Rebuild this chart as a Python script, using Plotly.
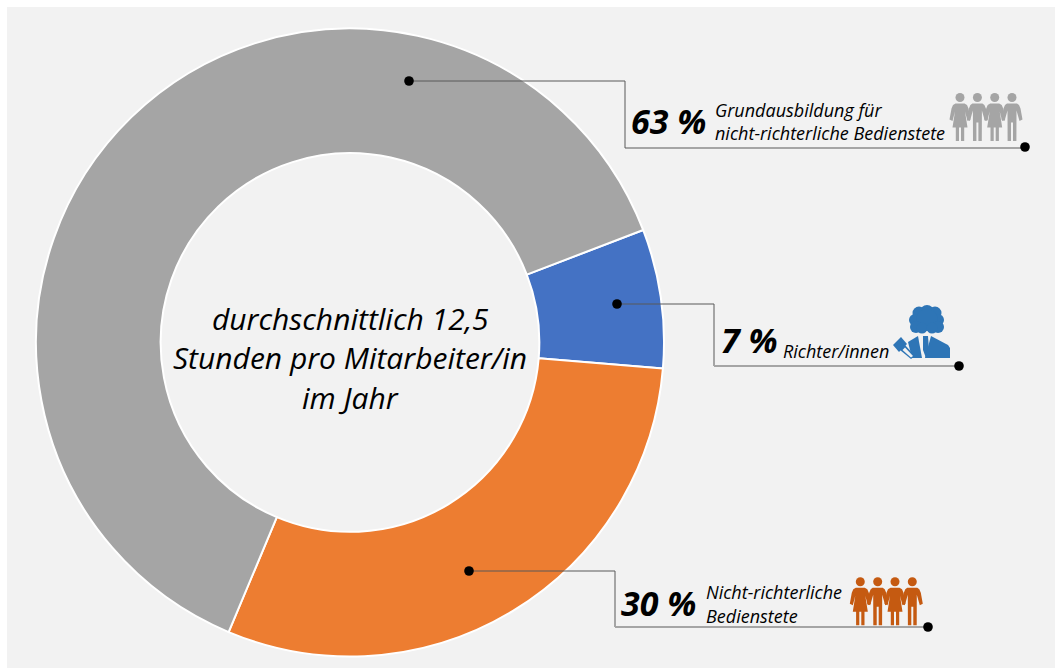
import plotly.graph_objects as go

categories = ["Richter/innen", "Nicht-richterliche Bedienstete", "Grundausbildung für nicht-richterliche Bedienstete"]
values = [7.15, 30.0, 62.85]
colors = ["#4472C4", "#ED7D31", "#A5A5A5"]
center_lines = ["durchschnittlich 12,5", "Stunden pro Mitarbeiter/in", "im Jahr"]

W, H = 1055, 668
FONT = "Open Sans"
BG = "#F2F2F2"
def X(p): return p / W
def Y(p): return 1 - p / H

fig = go.Figure(go.Pie(
    labels=categories, values=values, hole=0.603, sort=False, direction="clockwise",
    rotation=69, textinfo="none", hoverinfo="label+percent", showlegend=False,
    marker=dict(colors=colors, line=dict(color="#FFFFFF", width=2)),
    domain=dict(x=[X(36), X(664)], y=[Y(657), Y(28)]),
))

shapes = [dict(type="rect", xref="paper", yref="paper", x0=X(7), x1=X(1055), y0=Y(668), y1=Y(7),
               fillcolor=BG, line_width=0, layer="below")]

def poly(points):
    return "M" + " L".join(f"{X(a):.5f},{Y(b):.5f}" for a, b in points) + " Z"

def circle(cx, cy, r, color):
    shapes.append(dict(type="circle", xref="paper", yref="paper", x0=X(cx - r), x1=X(cx + r),
                       y0=Y(cy + r), y1=Y(cy - r), fillcolor=color, line_width=0))

def polygon(points, color):
    shapes.append(dict(type="path", xref="paper", yref="paper", path=poly(points),
                       fillcolor=color, line_width=0))

def seg(a, b, c, d, color, width):
    shapes.append(dict(type="line", xref="paper", yref="paper", x0=X(a), x1=X(c), y0=Y(b), y1=Y(d),
                       line=dict(color=color, width=width)))

def leader(x0, y0, xm, ym, xe, ye, base_color, base_width):
    seg(x0, y0, xm, y0, "#595959", 1)
    seg(xm, y0, xm, ym, "#595959", 1)
    seg(xm, ym, xe, ym, base_color, base_width)
    circle(x0, y0, 4.8, "#000000")
    circle(xe, ye, 4.8, "#000000")

def man(cx, top, color):
    circle(cx, top + 4, 4.5, color)
    polygon([(cx - 5, top + 10), (cx + 5, top + 10), (cx + 7, top + 11.5), (cx + 8.5, top + 15), (cx + 10.5, top + 26),
             (cx + 7.5, top + 27.5), (cx + 4.5, top + 17), (cx + 4.4, top + 47.5), (cx + 1, top + 47.5),
             (cx + 1, top + 29), (cx - 1, top + 29), (cx - 1, top + 47.5), (cx - 4.4, top + 47.5),
             (cx - 4.5, top + 17), (cx - 7.5, top + 27.5), (cx - 10.5, top + 26), (cx - 8.5, top + 15), (cx - 7, top + 11.5)], color)

def woman(cx, top, color):
    circle(cx, top + 4, 4.5, color)
    polygon([(cx - 4.5, top + 10), (cx + 4.5, top + 10), (cx + 7, top + 11.5), (cx + 8.5, top + 15), (cx + 10.5, top + 26),
             (cx + 7.5, top + 27.5), (cx + 5, top + 18), (cx + 7.5, top + 34), (cx + 4.2, top + 34),
             (cx + 4.2, top + 47.5), (cx + 1, top + 47.5), (cx + 1, top + 34), (cx - 1, top + 34),
             (cx - 1, top + 47.5), (cx - 4.2, top + 47.5), (cx - 4.2, top + 34), (cx - 7.5, top + 34),
             (cx - 5, top + 18), (cx - 7.5, top + 27.5), (cx - 10.5, top + 26), (cx - 8.5, top + 15), (cx - 7, top + 11.5)], color)

def people(x0, top, color):
    woman(x0, top, color); man(x0 + 17.4, top, color)
    woman(x0 + 34.7, top, color); man(x0 + 52, top, color)

def judge(color):
    for cx, cy, r in [(927, 312, 7), (919, 313, 6.5), (935, 313, 6.5), (915, 320, 6), (938, 320, 6),
                      (927, 320, 11), (916, 327, 6), (938, 327, 6), (922, 328, 5.5), (932, 328, 5.5)]:
        circle(cx, cy, r, color)
    polygon([(908, 342), (918, 336), (922, 358), (912, 358)], color)
    polygon([(923, 336), (928, 336), (929, 350), (926, 358), (923, 350)], color)
    polygon([(931, 336), (948, 345), (950, 348), (950, 358), (925, 358)], color)
    polygon([(893, 345), (901, 337), (907, 344), (899, 352)], color)
    polygon([(900, 350), (905, 345), (915, 356), (911, 359)], color)
    polygon([(902.5, 350), (905, 347.5), (913, 356), (911, 357.5)], BG)

leader(409, 81, 625, 148, 1025, 147, "#595959", 1)
leader(617, 304, 714, 366, 959, 366, "#A5A5A5", 2)
leader(469, 571, 615, 627, 928, 627, "#A5A5A5", 2)

people(960, 93.5, "#A5A5A5")
people(860.3, 577.7, "#C55A11")
judge("#2E75B6")

def txt(x, y, s, size, bold=False, align="left"):
    return dict(xref="paper", yref="paper", x=X(x), y=Y(y), text=f"<b><i>{s}</i></b>" if bold else f"<i>{s}</i>",
                showarrow=False, xanchor=align, yanchor="middle", align=align, borderpad=0, borderwidth=0,
                font=dict(family=FONT, size=size, color="#000000"))

annotations = [
    txt(350, 318, center_lines[0], 30, align="center"),
    txt(350, 358, center_lines[1], 30, align="center"),
    txt(350, 397, center_lines[2], 30, align="center"),
    txt(631, 121, "63 %", 34, True),
    txt(715, 110, "Grundausbildung für", 18),
    txt(715, 133, "nicht-richterliche Bedienstete", 18),
    txt(721, 340, "7 %", 34, True),
    txt(783, 351, "Richter/innen", 18),
    txt(621, 603, "30 %", 34, True),
    txt(706, 592, "Nicht-richterliche", 18),
    txt(706, 616, "Bedienstete", 18),
]

fig.update_layout(width=W, height=H, margin=dict(l=0, r=0, t=0, b=0), paper_bgcolor="#FFFFFF",
                  shapes=shapes, annotations=annotations, showlegend=False,
                  font=dict(family=FONT))
fig.write_html("out.html", config={"displayModeBar": False}, post_script="document.body.style.margin='0';")
